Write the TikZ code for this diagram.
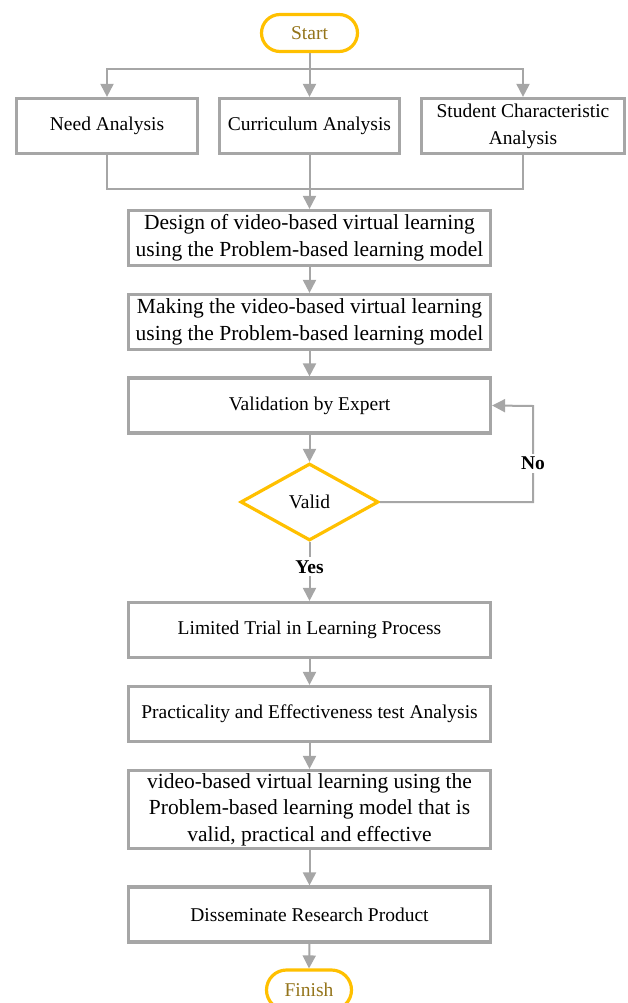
\documentclass[tikz,border=0pt]{standalone}
\usepackage{fontspec}
\setmainfont{Liberation Serif}
\usetikzlibrary{shapes.geometric,shapes.misc,arrows.meta}
\definecolor{boxgray}{HTML}{A6A6A6}
\definecolor{gold}{HTML}{FFC000}
\definecolor{goldtext}{HTML}{94741A}
\begin{document}
\begin{tikzpicture}[x=1pt,y=-1pt,
  every node/.style={font=\fontsize{19.5}{27}\selectfont, inner sep=0pt},
  procbox/.style={draw=boxgray, line width=3.2pt, fill=white, align=center, minimum height=55pt, minimum width=362pt},
  bigtext/.style={font=\fontsize{21.5}{26.5}\selectfont},
  termbox/.style={draw=gold, line width=3.2pt, rounded rectangle, fill=white, minimum width=96pt, minimum height=37pt, text=goldtext},
  decbox/.style={draw=gold, line width=3.2pt, diamond, fill=white, minimum width=138pt, minimum height=77pt},
  plainline/.style={draw=boxgray, line width=2pt},
  conn/.style={draw=boxgray, line width=2pt, -{Triangle[length=13pt,width=13pt]}},
  lbl/.style={font=\bfseries\fontsize{19.5}{24}\selectfont, fill=white, inner sep=3pt}]
\useasboundingbox (0,0) rectangle (627,1003);

\node[termbox] (start) at (309.5,33) {Start};
\node[procbox, minimum width=181pt] (need) at (107,126) {Need Analysis};
\node[procbox, minimum width=180pt] (curr) at (309.5,126) {Curriculum Analysis};
\node[procbox, minimum width=203pt] (stud) at (523,126) {Student Characteristic\\Analysis};
\node[procbox, bigtext] (design) at (309.5,238) {Design of video-based virtual learning\\using the Problem-based learning model};
\node[procbox, bigtext] (making) at (309.5,322) {Making the video-based virtual learning\\using the Problem-based learning model};
\node[procbox] (valid) at (309.5,405.5) {Validation by Expert};
\node[decbox] (dec) at (309.5,502) {Valid};
\node[procbox] (limited) at (309.5,630) {Limited Trial in Learning Process};
\node[procbox] (pract) at (309.5,714) {Practicality and Effectiveness test Analysis};
\node[procbox, bigtext, minimum height=78pt] (video) at (309.5,809.5) {video-based virtual learning using the\\Problem-based learning model that is\\valid, practical and effective};
\node[procbox] (diss) at (309.5,914.5) {Disseminate Research Product};
\node[termbox, minimum width=85pt, minimum height=40pt] (finish) at (309,990) {Finish};

\coordinate (br) at (309.5,69);
\coordinate (mrg) at (309.5,189);
\coordinate (noc) at (533,502);
\coordinate (nob) at (533,406);

\draw[plainline] (start.south) -- (br);
\draw[conn] (br) -| (need.north);
\draw[conn] (br) -| (stud.north);
\draw[conn] (br) -- (curr.north);
\draw[plainline] (need.south) |- (mrg);
\draw[plainline] (stud.south) |- (mrg);
\draw[conn] (curr.south) -- (design.north);
\draw[conn] (design.south) -- (making.north);
\draw[conn] (making.south) -- (valid.north);
\draw[conn] (valid.south) -- (dec.north);
\draw[conn] (dec.south) -- node[lbl, pos=0.42] (yes) {Yes} (limited.north);
\draw[conn] (dec.east) -- (noc) -- node[lbl, pos=0.4] (no) {No} (nob) -- (valid.east);
\draw[conn] (limited.south) -- (pract.north);
\draw[conn] (pract.south) -- (video.north);
\draw[conn] (video.south) -- (diss.north);
\draw[conn] (diss.south) -- (finish.north);
\end{tikzpicture}
\end{document}
